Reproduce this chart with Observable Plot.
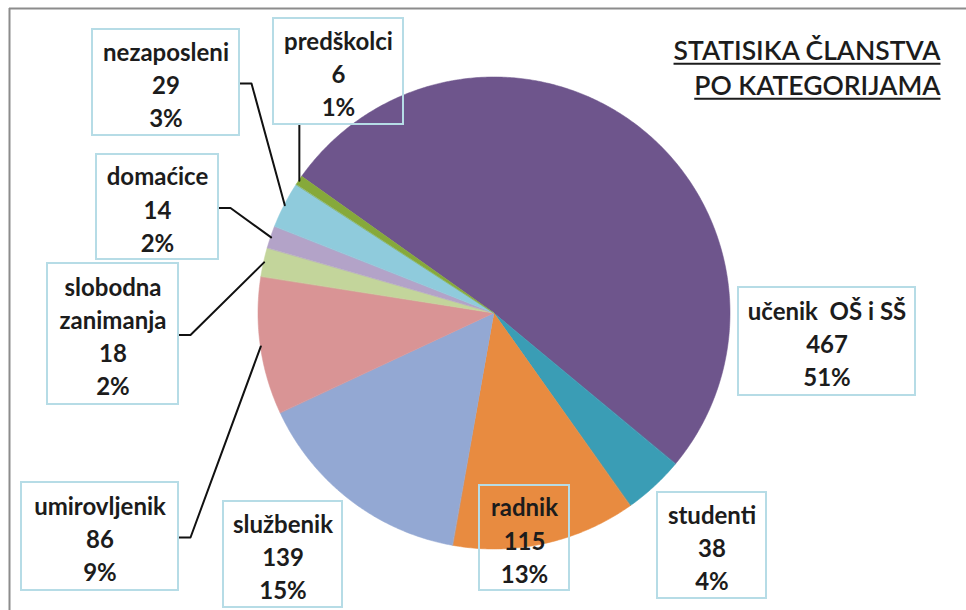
<!DOCTYPE html>
<html><head><meta charset="utf-8">
<script src="https://cdn.jsdelivr.net/npm/d3@7"></script>
<script src="https://cdn.jsdelivr.net/npm/@observablehq/plot@0.6"></script>
<style>
body{margin:0;background:#fff}
</style>
</head><body><div id="chart"></div>
<script>
// ---- data ----
const categories = ["učenik OŠ i SŠ","studenti","radnik","službenik","umirovljenik","slobodna zanimanja","domaćice","nezaposleni","predškolci"];
const values = [467,38,115,139,86,18,14,29,6];
const labelNames = ["učenik  OŠ i SŠ","studenti","radnik","službenik","umirovljenik","slobodna\nzanimanja","domaćice","nezaposleni","predškolci"];
const titleText = "STATISIKA ČLANSTVA\nPO KATEGORIJAMA";

// ---- styles ----
const colors = ["#6e558c","#3a9db5","#e88b40","#93a8d3","#d99495","#c3d59b","#b3a3c8","#8fcbdc","#86a93a"];

// ---- layout ----
const W = 966, H = 610, CX = 494, CY = 313, R = 236, START_DEG = -54.6;
const boxLayout = [
  [738, 915, 287, 395],  // učenik
  [657, 766, 492, 598],  // studenti
  [479, 569, 485, 590],  // radnik
  [223, 342, 501, 607],  // službenik
  [21, 178, 482, 590],   // umirovljenik
  [47, 178, 263, 404],   // slobodna zanimanja
  [96, 218, 154, 259],   // domaćice
  [92, 239, 29, 135],    // nezaposleni
  [273, 403, 18, 124]    // predškolci
];
const leaderType = [null, null, null, null, "side", "side", "side", "side", "below"];

const total = d3.sum(values);
const pie = d3.pie().sort(null).value(d => d)
  .startAngle(START_DEG * Math.PI / 180)
  .endAngle(START_DEG * Math.PI / 180 + 2 * Math.PI);
const arcs = pie(values);
const px = a => CX + R * Math.sin(a);
const py = a => CY - R * Math.cos(a);

const slicePts = [];
arcs.forEach((a, i) => {
  const n = Math.max(4, Math.ceil((a.endAngle - a.startAngle) / (Math.PI / 360)));
  for (let k = 0; k <= n; k++) {
    const t = a.startAngle + (a.endAngle - a.startAngle) * k / n;
    slicePts.push({name: categories[i], x: px(t), y: py(t)});
  }
});

const boxes = categories.map((c, i) => {
  const [x1, x2, y1, y2] = boxLayout[i];
  const pct = Math.round(values[i] / total * 100);
  return {name: c, x1, x2, y1, y2, cx: (x1 + x2) / 2, cy: (y1 + y2) / 2 + 1,
          text: `${labelNames[i]}\n${values[i]}\n${pct}%`};
});

const leaderPts = [];
arcs.forEach((a, i) => {
  const t = leaderType[i];
  if (!t) return;
  const mid = (a.startAngle + a.endAngle) / 2;
  const b = boxes[i];
  const ex = px(mid), ey = py(mid);
  if (t === "side") {
    leaderPts.push({name: b.name, x: b.x2, y: b.cy});
    leaderPts.push({name: b.name, x: b.x2 + 12, y: b.cy});
  } else {
    leaderPts.push({name: b.name, x: ex, y: b.y2});
  }
  leaderPts.push({name: b.name, x: ex, y: ey});
});

const chart = Plot.plot({
  width: W, height: H,
  margin: 0,
  x: {domain: [0, W], range: [0, W], axis: null},
  y: {domain: [0, H], range: [0, H], axis: null},
  color: {domain: categories, range: colors},
  style: {fontFamily: "Lato, 'Open Sans', sans-serif", background: "#fff"},
  marks: [
    Plot.ruleY([8], {x1: 9, x2: W, stroke: "#8c8c8c", strokeWidth: 2}),
    Plot.ruleX([9], {y1: 8, y2: H, stroke: "#8c8c8c", strokeWidth: 2}),
    Plot.area(slicePts, {x1: () => CX, y1: () => CY, x2: "x", y2: "y", z: "name", fill: "name", curve: "linear",
      stroke: "name", strokeWidth: 0.6, strokeOpacity: 0.9}),
    Plot.line(leaderPts, {x: "x", y: "y", z: "name", stroke: "#111", strokeWidth: 2, curve: "linear"}),
    Plot.rect(boxes, {x1: "x1", x2: "x2", y1: "y1", y2: "y2", fill: "none", stroke: "#b6dce6", strokeWidth: 2}),
    Plot.text(boxes, {x: "cx", y: "cy", text: "text", fontSize: 24, fontWeight: "bold", lineHeight: 1.38, fill: "#1c1c1c"}),
    Plot.text([titleText], {x: () => 940, y: () => 66, text: d => d, textAnchor: "end", fontSize: 26.5, lineHeight: 1.32,
      fill: "#1c1c1c", fontWeight: 600})
  ]
});
document.getElementById("chart").appendChild(chart);

// underline the title lines
const svg = d3.select(chart.tagName === "svg" ? chart : chart.querySelector("svg"));
svg.selectAll("text").each(function () {
  if (!this.textContent.includes("STATISIKA")) return;
  const parent = d3.select(this.parentNode);
  const tspans = this.querySelectorAll("tspan");
  const ctm = this.getCTM();
  (tspans.length ? Array.from(tspans) : [this]).forEach(el => {
    const len = el.getComputedTextLength();
    const p = el.getStartPositionOfChar(0);
    parent.append("line")
      .attr("transform", this.getAttribute("transform"))
      .attr("x1", p.x).attr("x2", p.x + len)
      .attr("y1", p.y + 3.5).attr("y2", p.y + 3.5)
      .attr("stroke", "#1c1c1c").attr("stroke-width", 2);
  });
});
</script>
</body></html>
